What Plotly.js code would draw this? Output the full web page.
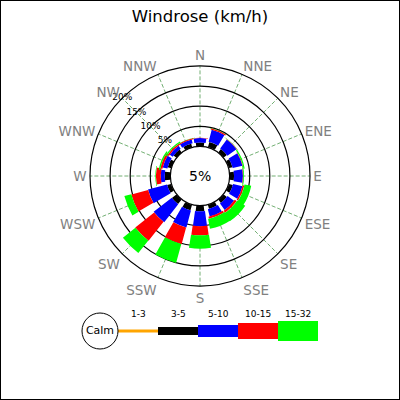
<!DOCTYPE html>
<html>
<head>
<meta charset="utf-8">
<script src="https://cdn.plot.ly/plotly-3.0.1.min.js"></script>
<style>
  html, body { margin: 0; padding: 0; background: #fff; }
  #plot { width: 400px; height: 400px; }
</style>
</head>
<body>
<div id="plot"></div>
<script>
// wind directions (degrees clockwise from north) and their labels
var directions = ['N', 'NNE', 'NE', 'ENE', 'E', 'ESE', 'SE', 'SSE',
                  'S', 'SSW', 'SW', 'WSW', 'W', 'WNW', 'NW', 'NNW'];
var angles = [0, 22.5, 45, 67.5, 90, 112.5, 135, 157.5,
              180, 202.5, 225, 247.5, 270, 292.5, 315, 337.5];

// speed classes (km/h)
var speedBins = ['1-3', '3-5', '5-10', '10-15', '15-32'];

// frequency (%) per direction, one array per speed class
var freq1to3   = [0.05, 0.1, 0.1, 0.1, 0.1, 0.1, 0.1, 0.1, 0.1, 0.1, 0.1, 0.1, 0.1, 0.05, 0.05, 0.05];
var freq3to5   = [0.9, 1.3, 1.0, 0.9, 1.0, 1.0, 1.0, 1.0, 1.3, 1.4, 1.4, 1.0, 1.3, 0.9, 0.9, 0.9];
var freq5to10  = [1.1, 3.1, 2.8, 2.5, 2.2, 2.4, 2.0, 1.9, 3.7, 4.4, 5.7, 4.9, 1.0, 1.2, 0.9, 1.0];
var freq10to15 = [0.1, 0.3, 0.1, 0.1, 0.1, 0.4, 0.6, 0.5, 2.3, 4.3, 6.0, 4.3, 1.2, 0.5, 0.4, 0.2];
var freq15to32 = [0.0, 0.05, 0.05, 0.3, 0.2, 1.7, 2.4, 2.5, 3.3, 4.9, 4.0, 1.8, 0.15, 0.35, 0.3, 0.05];

var calmText = '5%';
var ringVals = [5, 10, 15, 20];
var ringLabels = ['5%', '10%', '15%', '20%'];

var series = [freq1to3, freq3to5, freq5to10, freq10to15, freq15to32];
var colors = ['#ffa500', '#000000', '#0000ff', '#ff0000', '#00ff00'];
var barPx = [3, 8, 12, 16, 20];   // bar thickness in pixels
var pxPerPct = 4;                  // radial scale
var offset = 7.375;                // calm circle radius, in % units
var rMax = 20;

var traces = [];
var base = angles.map(function () { return 0; });

series.forEach(function (vals, k) {
  // keep the bars roughly constant in pixel width, like rectangles
  var widths = vals.map(function (v, i) {
    var mid = offset + base[i] + v / 2;
    return (barPx[k] / pxPerPct) / mid * 180 / Math.PI;
  });
  traces.push({
    type: 'barpolar',
    r: vals,
    theta: angles,
    base: base.slice(),
    width: widths,
    marker: { color: colors[k], line: { width: 0 } },
    hoverinfo: 'skip'
  });
  base = base.map(function (b, i) { return b + vals[i]; });
});

// ring labels along the NW line
traces.push({
  type: 'scatterpolar',
  mode: 'text',
  r: ringVals,
  theta: ringVals.map(function () { return 315; }),
  text: ringLabels,
  textposition: 'middle center',
  textfont: { size: 9, color: '#000' },
  hoverinfo: 'skip'
});

// legend strip underneath
traces.push({
  type: 'bar',
  orientation: 'h',
  x: speedBins.map(function () { return 1; }),
  y: speedBins.map(function () { return 0; }),
  base: speedBins.map(function (s, i) { return i; }),
  width: barPx,
  marker: { color: colors, line: { width: 0 } },
  xaxis: 'x', yaxis: 'y',
  hoverinfo: 'skip'
});
traces.push({
  type: 'scatter',
  mode: 'markers+text',
  x: [-0.45], y: [0],
  text: ['Calm'],
  textposition: 'middle center',
  textfont: { size: 11, color: '#000' },
  marker: { symbol: 'circle', size: 36, color: '#fff', line: { color: '#000', width: 1 } },
  xaxis: 'x', yaxis: 'y',
  hoverinfo: 'skip'
});

var annotations = speedBins.map(function (s, i) {
  return {
    text: s, x: i + 0.5, y: 17, xref: 'x', yref: 'y',
    showarrow: false, font: { size: 9, color: '#000' }
  };
});
annotations.push({
  text: calmText, x: 0.5, y: 0.56, xref: 'paper', yref: 'paper',
  showarrow: false, font: { size: 14, color: '#000' }
});

var layout = {
  width: 400,
  height: 400,
  margin: { l: 0, r: 0, t: 0, b: 0 },
  paper_bgcolor: '#fff',
  plot_bgcolor: '#fff',
  font: { family: 'DejaVu Sans', color: '#000' },
  showlegend: false,
  hovermode: false,
  barmode: 'overlay',
  title: {
    text: 'Windrose (km/h)',
    x: 0.5, xanchor: 'center',
    y: 0.96, yanchor: 'middle',
    font: { size: 16.5, color: '#000' }
  },
  polar: {
    domain: { x: [0.225, 0.775], y: [0.285, 0.835] },
    bgcolor: '#fff',
    hole: offset / (offset + rMax),
    barmode: 'overlay',
    radialaxis: {
      range: [0, rMax],
      tickmode: 'array',
      tickvals: ringVals,
      showticklabels: false,
      showline: false,
      ticks: '',
      gridcolor: '#000',
      gridwidth: 1.2
    },
    angularaxis: {
      rotation: 90,
      direction: 'clockwise',
      tickmode: 'array',
      tickvals: angles,
      ticktext: directions,
      ticks: '',
      showline: true,
      linecolor: '#000',
      linewidth: 1.2,
      gridcolor: '#4f9a4f',
      griddash: '4px,2px',
      gridwidth: 0.8,
      tickfont: { size: 13.5, color: '#808080' }
    }
  },
  xaxis: { domain: [0.2, 0.8], range: [-0.95, 5.05], visible: false, fixedrange: true },
  yaxis: { domain: [0.0975, 0.2475], range: [-30, 30], visible: false, fixedrange: true },
  annotations: annotations,
  shapes: [{
    type: 'rect', xref: 'paper', yref: 'paper', x0: 0, y0: 0, x1: 1, y1: 1,
    line: { color: '#000', width: 2 }
  }]
};

Plotly.newPlot('plot', traces, layout, { staticPlot: true, displayModeBar: false });
</script>
</body>
</html>
